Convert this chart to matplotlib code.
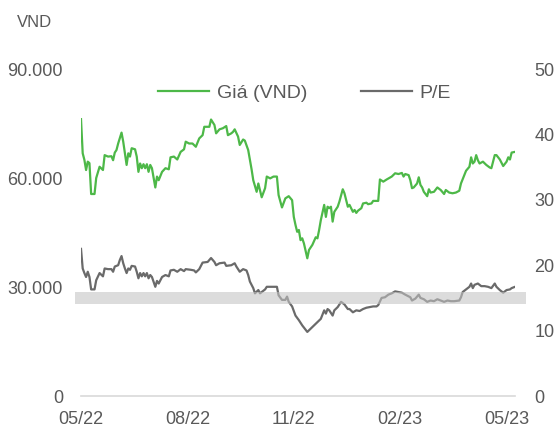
import matplotlib
matplotlib.use("Agg")
import matplotlib.pyplot as plt
from matplotlib.ticker import FuncFormatter

plt.rcParams["font.family"] = ["Liberation Sans", "DejaVu Sans"]

# trading-session index (0 = start of 05/22), price in VND
price_t = [0, 1, 2, 3, 4, 5, 6, 8, 9, 11, 13, 14, 16, 18, 19, 20, 21, 22, 24, 25,
           26, 27, 28, 29, 30, 32, 33, 34, 35, 36, 37, 38, 39, 40, 41, 42, 44, 45, 46, 48,
           50, 52, 53, 55, 57, 59, 61, 62, 64, 66, 68, 70, 72, 73, 76, 77, 79, 80, 82, 84,
           86, 87, 89, 90, 91, 93, 94, 96, 97, 99, 101, 102, 104, 105, 107, 109, 110, 112, 114, 116,
           117, 119, 121, 123, 125, 126, 127, 128, 129, 130, 131, 132, 134, 135, 137, 139, 140, 141, 142, 144,
           145, 146, 147, 148, 149, 150, 152, 153, 155, 156, 158, 159, 161, 162, 163, 164, 166, 167, 169, 170,
           172, 173, 175, 176, 177, 179, 181, 184, 186, 188, 190, 191, 192, 194, 195, 196, 197, 199, 200, 201,
           202, 203, 205, 206, 207, 209, 211, 213, 215, 216, 218, 220, 222, 224, 225, 227, 228, 230, 231, 232,
           233, 234, 235, 236, 238, 240, 242, 243, 245, 246, 248, 250, 252, 253, 254, 255, 257]
price = [76200, 66800, 65000, 62200, 64500, 64100, 55600, 55600, 60000, 63100, 62200, 66300, 65900, 66000, 64900, 67000, 67700, 69500, 72500, 70000,
         66800, 63600, 66800, 65900, 68200, 67900, 65900, 61700, 64000, 62700, 63800, 62700, 63800, 61700, 63600, 62700, 57400, 60400, 59400, 61700,
         62700, 62400, 65700, 65900, 65100, 67200, 67900, 70000, 69500, 69500, 68600, 70900, 71800, 74100, 74100, 76100, 74600, 72300, 73400, 73700,
         74300, 71800, 72300, 72700, 73400, 71400, 69100, 70600, 70300, 67700, 62400, 59400, 56200, 58500, 54700, 57200, 60400, 59900, 60400, 60400,
         55300, 51900, 54400, 55000, 53900, 49300, 47100, 45200, 45700, 42900, 43400, 42000, 37900, 40200, 41600, 43700, 43400, 45700, 48400, 52600,
         49300, 52100, 51700, 52100, 48000, 50700, 52100, 53500, 56900, 55800, 52100, 52600, 50700, 51200, 50400, 51000, 51700, 53000, 53200, 52800,
         53000, 53700, 53700, 53700, 59600, 59000, 59600, 60400, 61300, 61100, 61400, 60400, 61100, 60800, 59400, 57200, 57400, 58500, 60200, 58100,
         57400, 56200, 55000, 56900, 56000, 56200, 57400, 56700, 55600, 56700, 56000, 55800, 56000, 56500, 58500, 60800, 62000, 63100, 65700, 64000,
         64500, 66300, 64900, 64000, 64500, 63600, 62900, 62700, 66300, 66300, 65100, 63300, 64500, 65700, 65100, 67000, 67200]

pe_t = [0, 1, 2, 3, 4, 5, 6, 8, 9, 11, 13, 14, 16, 18, 19, 20, 22, 23, 24, 25,
        26, 27, 28, 29, 30, 32, 33, 34, 35, 36, 37, 38, 39, 40, 41, 42, 44, 45, 46, 48,
        50, 52, 53, 55, 57, 59, 61, 62, 65, 67, 68, 70, 72, 75, 77, 79, 80, 82, 85, 86,
        89, 91, 92, 94, 96, 98, 99, 100, 102, 103, 105, 106, 107, 109, 110, 112, 114, 116, 117, 119,
        121, 122, 123, 125, 127, 129, 131, 134, 136, 138, 140, 142, 144, 145, 146, 147, 149, 150, 152, 154,
        156, 158, 159, 161, 163, 165, 167, 169, 171, 173, 175, 176, 178, 180, 182, 184, 186, 188, 190, 192,
        195, 196, 198, 200, 201, 203, 205, 207, 209, 211, 213, 215, 217, 219, 221, 224, 225, 226, 228, 230,
        231, 232, 233, 235, 237, 239, 241, 243, 245, 246, 248, 250, 252, 254, 255, 257]
pe = [22.5, 19.5, 18.8, 18.2, 19.0, 18.2, 16.3, 16.3, 17.7, 18.8, 18.3, 19.5, 19.4, 19.4, 19.0, 19.8, 20.0, 20.8, 21.4, 20.3,
      19.5, 18.8, 19.5, 19.3, 19.9, 19.8, 19.0, 18.0, 18.8, 18.3, 18.8, 18.3, 18.8, 18.0, 18.5, 18.2, 16.7, 17.6, 17.2, 18.2,
      18.5, 18.3, 19.2, 19.3, 19.0, 19.4, 19.1, 19.4, 19.3, 19.2, 18.9, 19.4, 20.4, 20.5, 21.1, 20.5, 20.0, 20.3, 20.4, 19.9,
      20.0, 20.3, 19.8, 19.0, 19.4, 19.2, 18.5, 17.5, 16.5, 15.7, 16.2, 15.7, 15.9, 16.3, 16.7, 16.7, 16.7, 16.7, 15.4, 14.7,
      14.7, 15.2, 14.4, 13.7, 12.3, 11.6, 10.8, 9.8, 10.3, 10.8, 11.3, 11.8, 13.1, 12.6, 13.3, 13.1, 12.3, 13.1, 13.6, 14.4,
      14.0, 13.3, 13.3, 12.8, 13.1, 13.0, 13.3, 13.5, 13.6, 13.7, 13.7, 13.9, 15.0, 15.1, 15.5, 15.7, 16.0, 15.9, 15.8, 15.5,
      15.1, 14.6, 14.9, 15.5, 15.0, 14.8, 14.4, 14.6, 14.5, 14.8, 14.6, 14.4, 14.6, 14.5, 14.5, 14.6, 15.1, 15.9, 16.3, 16.7,
      17.2, 16.5, 17.0, 17.2, 16.8, 16.8, 16.7, 16.5, 17.2, 16.7, 16.2, 15.8, 16.2, 16.3, 16.5, 16.7]

tick_pos = [0, 63, 126, 189, 252]
tick_labels = ["05/22", "08/22", "11/22", "02/23", "05/23"]
band_pe = (14.1, 15.9)

GREEN = "#4db848"
GREY_LINE = "#6a6a6a"
TXT = "#595959"

fig = plt.figure(figsize=(5.56, 4.25), dpi=100)
ax = fig.add_axes([0.1457, 0.0682, 0.7806, 0.7694])
ax2 = ax.twinx()

l1, = ax.plot(price_t, price, color=GREEN, lw=1.6, label="Giá (VND)")
l2, = ax2.plot(pe_t, pe, color=GREY_LINE, lw=1.6, label="P/E")

# shaded band, drawn over the P/E line and a bit wider than the plot
ax2.fill_between([-3.6, 263.7], band_pe[0], band_pe[1], color="#c3c3c3",
                 alpha=0.58, lw=0, zorder=5, clip_on=False)

ax.set_xlim(0, 257)
ax.set_ylim(0, 90000)
ax2.set_ylim(0, 50)
ax.set_yticks([0, 30000, 60000, 90000])
ax2.set_yticks([0, 10, 20, 30, 40, 50])
ax.yaxis.set_major_formatter(FuncFormatter(lambda v, p: f"{int(v):,}".replace(",", ".")))
ax.set_xticks(tick_pos)
ax.set_xticklabels(tick_labels)

for a in (ax, ax2):
    for s in a.spines.values():
        s.set_visible(False)
ax.spines["bottom"].set_visible(True)
ax.spines["bottom"].set_color("#d9d9d9")
ax.spines["bottom"].set_linewidth(1.2)

ax.tick_params(axis="y", length=0, pad=13, labelsize=13, labelcolor=TXT)
ax.tick_params(axis="x", length=0, pad=11, labelsize=13, labelcolor=TXT)
ax2.tick_params(axis="y", length=0, pad=14, labelsize=13, labelcolor=TXT)

fig.text(17 / 556, 1 - 27 / 425, "VND", fontsize=12, color=TXT, ha="left", va="baseline")

fig.legend(handles=[l1, l2], loc="center", bbox_to_anchor=(0.548, 0.781), ncol=2,
           frameon=False, fontsize=14, labelcolor=TXT, handlelength=2.6,
           handletextpad=0.4, columnspacing=2.8, borderpad=0)

fig.savefig("out.png", dpi=100)
